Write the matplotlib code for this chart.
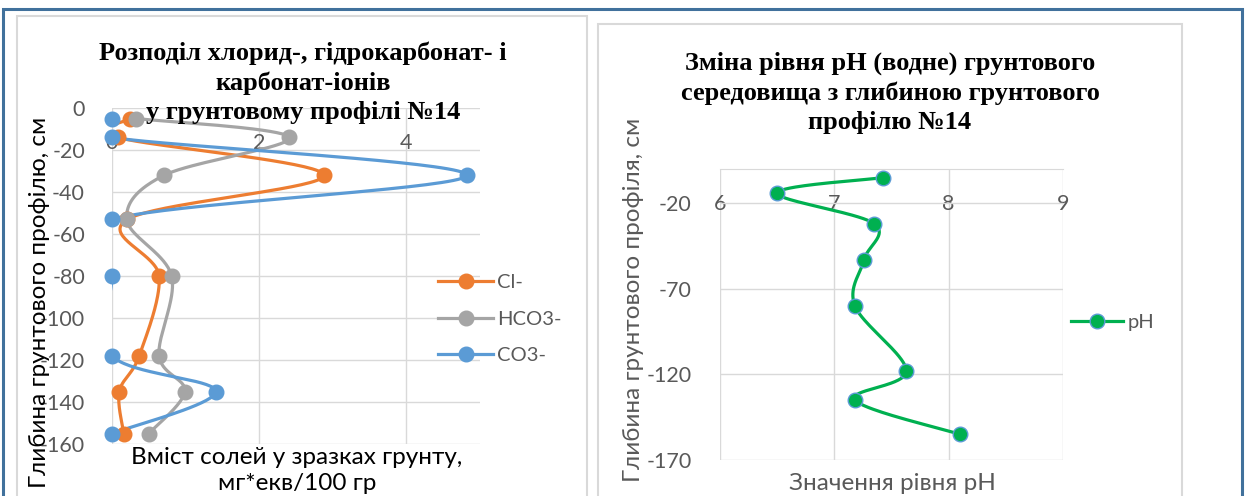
import numpy as np
import matplotlib
matplotlib.use('Agg')
import matplotlib.pyplot as plt
from matplotlib.lines import Line2D
from matplotlib.patches import Rectangle

plt.rcParams['font.family'] = ['Lato', 'DejaVu Sans']
plt.rcParams['axes.unicode_minus'] = False

# depth of the samples, cm
depth = [-5, -14, -32, -53, -80, -118, -135, -155]
# salt content, mg*eq/100 g
cl = [0.25, 0.08, 2.88, 0.21, 0.64, 0.37, 0.10, 0.16]
hco3 = [0.33, 2.41, 0.71, 0.20, 0.81, 0.64, 0.99, 0.50]
co3 = [0.0, 0.0, 4.82, 0.0, 0.0, 0.0, 1.41, 0.0]
series_names = ['Cl-', 'HCO3-', 'CO3-']
series_colors = ['#ED7D31', '#A5A5A5', '#5B9BD5']
# pH (water)
ph = [7.43, 6.50, 7.35, 7.26, 7.18, 7.63, 7.18, 8.10]

W, H = 1245, 496
GRID = '#D9D9D9'
TXT = '#595959'
TICK_FS = 15.5
LABEL_FS = 17.5
TITLE_FS = 19
SERIF = ['Liberation Serif', 'DejaVu Serif']


def fx(px):
    return px / W


def fy(py):
    return 1 - py / H


def smooth(ax, xs, ys, n=40):
    # excel-like smoothed line (bezier through points), done in screen space
    pts = ax.transData.transform(np.column_stack([xs, ys]))
    P = np.vstack([pts[0], pts, pts[-1]])
    t = np.linspace(0, 1, n)[:, None]
    segs = []
    for i in range(1, len(P) - 2):
        p0, p1, p2, p3 = P[i - 1], P[i], P[i + 1], P[i + 2]
        c1 = p1 + (p2 - p0) / 6
        c2 = p2 - (p3 - p1) / 6
        segs.append((1 - t) ** 3 * p1 + 3 * (1 - t) ** 2 * t * c1
                    + 3 * (1 - t) * t ** 2 * c2 + t ** 3 * p2)
    return ax.transData.inverted().transform(np.vstack(segs))


fig = plt.figure(figsize=(W / 100, H / 100), dpi=100)

# frames: outer blue one and the two chart areas
fig.add_artist(Rectangle((fx(3), fy(540)), fx(1239), (540 - 9) / H, transform=fig.transFigure,
                         fill=False, edgecolor='#41719C', linewidth=2.2))
fig.add_artist(Rectangle((fx(17), fy(540)), fx(570), (540 - 16) / H, transform=fig.transFigure,
                         fill=False, edgecolor=GRID, linewidth=1.5))
fig.add_artist(Rectangle((fx(598), fy(540)), fx(584), (540 - 24) / H, transform=fig.transFigure,
                         fill=False, edgecolor=GRID, linewidth=1.5))


def style_axes(ax, label_pad):
    for s in ax.spines.values():
        s.set_visible(False)
    ax.grid(True, color=GRID, linewidth=1.0)
    ax.set_axisbelow(True)
    ax.tick_params(axis='x', top=False, bottom=False, labeltop=True, labelbottom=False,
                   pad=-36, labelsize=TICK_FS, labelcolor=TXT)
    ax.tick_params(axis='y', left=False, pad=label_pad, labelsize=TICK_FS, labelcolor=TXT)


# ---- left chart: salts ----
ax1 = fig.add_axes([fx(112), fy(444), 368 / W, 336 / H])
ax1.set_xlim(0, 5)
ax1.set_ylim(-160, 0)
ax1.set_xticks([0, 2, 4])
ax1.set_yticks(np.arange(-160, 1, 20))
style_axes(ax1, 16)

handles = []
for vals, name, col in zip([cl, hco3, co3], series_names, series_colors):
    c = smooth(ax1, vals, depth)
    ax1.plot(c[:, 0], c[:, 1], color=col, linewidth=2.3, solid_capstyle='round')
    ax1.plot(vals, depth, 'o', color=col, markersize=10.5, clip_on=False, zorder=4)
    handles.append(Line2D([], [], color=col, linewidth=2.3, marker='o', markersize=10.5))

ax1.legend(handles, series_names, loc='center left', bbox_to_anchor=(fx(438), fy(319)),
           bbox_transform=fig.transFigure, frameon=False, borderpad=0, borderaxespad=0,
           handlelength=2.75, handletextpad=0.2, labelspacing=0.95, fontsize=14.5,
           labelcolor=TXT)

for txt, y in zip(['Розподіл хлорид-, гідрокарбонат- і', 'карбонат-іонів',
                   'у грунтовому профілі №14'], [53, 83, 113]):
    fig.text(fx(303), fy(y), txt, ha='center', va='center', family=SERIF,
             fontweight='bold', fontsize=TITLE_FS, zorder=10)
fig.text(fx(40), fy(302), 'Глибина грунтового профілю, см', rotation=90,
         ha='center', va='center', fontsize=LABEL_FS, color='black')
fig.text(fx(297), fy(457), 'Вміст солей у зразках грунту,', ha='center', va='center',
         fontsize=LABEL_FS, color='black')
fig.text(fx(297), fy(483), 'мг*екв/100 гр', ha='center', va='center',
         fontsize=LABEL_FS, color='black')

# ---- right chart: pH ----
ax2 = fig.add_axes([fx(720), fy(460), 343 / W, 291 / H])
ax2.set_xlim(6, 9)
ax2.set_ylim(-170, 0)
ax2.set_xticks([6, 7, 8, 9])
ax2.set_yticks([-170, -120, -70, -20])
style_axes(ax2, 17)
ax2.spines['top'].set_visible(True)
ax2.spines['top'].set_color(GRID)

c = smooth(ax2, ph, depth)
ax2.plot(c[:, 0], c[:, 1], color='#00B050', linewidth=2.3)
ax2.plot(ph, depth, 'o', color='#00B050', markeredgecolor='#5B9BD5', markeredgewidth=1.0,
         markersize=10.5, clip_on=False, zorder=4)
ph_handle = Line2D([], [], color='#00B050', linewidth=2.3, marker='o', markersize=10.5,
                   markeredgecolor='#5B9BD5', markeredgewidth=1.0)
ax2.legend([ph_handle], ['pH'], loc='center left', bbox_to_anchor=(fx(1071), fy(322)),
           bbox_transform=fig.transFigure, frameon=False, borderpad=0, borderaxespad=0,
           handlelength=2.6, handletextpad=0.2, fontsize=14.5, labelcolor=TXT)

for txt, y in zip(['Зміна рівня pH (водне) грунтового', 'середовища з глибиною грунтового',
                   'профілю №14'], [63, 93, 122]):
    fig.text(fx(890), fy(y), txt, ha='center', va='center', family=SERIF,
             fontweight='bold', fontsize=TITLE_FS, zorder=10)
fig.text(fx(633), fy(300), 'Глибина грунтового профіля, см', rotation=90,
         ha='center', va='center', fontsize=LABEL_FS, color=TXT)
fig.text(fx(892), fy(483), 'Значення рівня pH', ha='center', va='center',
         fontsize=LABEL_FS, color=TXT)

fig.savefig('out.png', dpi=100)
